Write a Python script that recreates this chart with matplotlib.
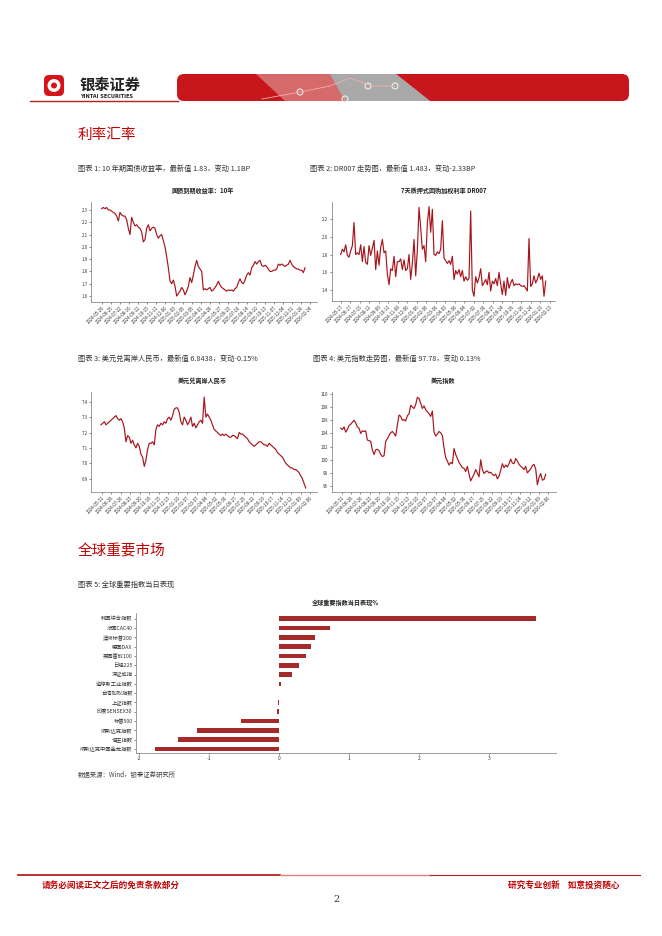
import numpy as np
import matplotlib
matplotlib.use("Agg")
import matplotlib.pyplot as plt
from matplotlib.patches import FancyBboxPatch, Polygon, Circle

plt.rcParams['font.family'] = ['Noto Sans CJK SC', 'DejaVu Sans']
plt.rcParams['axes.unicode_minus'] = False

# ---- data ----
cgb10y = [2.31, 2.32, 2.31, 2.32, 2.30, 2.30, 2.29, 2.28, 2.27, 2.25, 2.21, 2.28, 2.26, 2.25, 2.25,
          2.22, 2.15, 2.10, 2.24, 2.20, 2.17, 2.18, 2.16, 2.15, 2.12, 2.04, 2.06, 2.15, 2.18, 2.13,
          2.15, 2.16, 2.15, 2.10, 2.07, 2.09, 2.10, 2.05, 2.00, 1.92, 1.83, 1.72, 1.70, 1.73, 1.68,
          1.60, 1.62, 1.64, 1.67, 1.65, 1.61, 1.64, 1.68, 1.75, 1.71, 1.77, 1.84, 1.89, 1.84, 1.82,
          1.80, 1.65, 1.66, 1.65, 1.66, 1.67, 1.64, 1.65, 1.67, 1.69, 1.72, 1.69, 1.67, 1.66, 1.65,
          1.64, 1.65, 1.645, 1.65, 1.64, 1.66, 1.67, 1.71, 1.74, 1.71, 1.70, 1.73, 1.77, 1.79, 1.77,
          1.83, 1.85, 1.88, 1.86, 1.88, 1.89, 1.85, 1.84, 1.85, 1.84, 1.82, 1.80, 1.80, 1.81, 1.81,
          1.82, 1.86, 1.85, 1.86, 1.85, 1.84, 1.85, 1.86, 1.89, 1.86, 1.84, 1.83, 1.82, 1.82, 1.81,
          1.81, 1.79, 1.83]

dr007 = [1.80, 1.86, 1.83, 1.91, 1.79, 1.77, 1.84, 1.90, 2.16, 1.80, 1.82, 1.80, 1.91, 1.72, 1.89,
         1.71, 1.69, 1.90, 1.79, 1.87, 1.96, 1.63, 1.84, 1.68, 1.88, 1.97, 1.82, 1.84, 1.58, 1.46,
         1.64, 1.62, 1.78, 1.55, 1.72, 1.72, 1.75, 1.63, 1.74, 1.62, 1.64, 1.80, 1.52, 1.70, 1.97,
         1.56, 1.85, 2.33, 2.10, 1.86, 1.90, 1.72, 2.15, 2.34, 2.05, 2.31, 1.80, 1.79, 1.83, 1.81,
         1.86, 2.18, 1.76, 1.73, 1.70, 1.73, 1.69, 1.78, 1.52, 1.62, 1.58, 1.63, 1.55, 1.62, 1.50,
         1.55, 1.51, 1.53, 2.29, 1.40, 1.33, 1.55, 1.48, 1.54, 1.64, 1.45, 1.48, 1.52, 1.46, 1.60,
         1.39, 1.50, 1.47, 1.53, 1.45, 1.60, 1.47, 1.35, 1.50, 1.34, 1.54, 1.42, 1.48, 1.52, 1.45,
         1.47, 1.46, 1.47, 1.45, 1.44, 1.45, 1.42, 1.39, 1.98, 1.44, 1.47, 1.56, 1.48, 1.52, 1.59,
         1.52, 1.56, 1.33, 1.50]

usdcnh = [7.25, 7.26, 7.27, 7.25, 7.26, 7.27, 7.28, 7.29, 7.30, 7.31, 7.29, 7.28, 7.29, 7.27, 7.23,
          7.14, 7.18, 7.17, 7.13, 7.15, 7.12, 7.10, 7.13, 7.11, 7.06, 7.04, 6.98, 7.02, 7.09, 7.13,
          7.13, 7.14, 7.12, 7.22, 7.25, 7.24, 7.26, 7.25, 7.27, 7.26, 7.29, 7.30, 7.28, 7.31, 7.35,
          7.36, 7.36, 7.33, 7.27, 7.25, 7.30, 7.28, 7.25, 7.27, 7.30, 7.24, 7.26, 7.23, 7.25, 7.27,
          7.28, 7.26, 7.43, 7.30, 7.32, 7.30, 7.28, 7.25, 7.22, 7.21, 7.20, 7.19, 7.18, 7.19, 7.18,
          7.19, 7.18, 7.17, 7.17, 7.18, 7.18, 7.17, 7.16, 7.20, 7.19, 7.19, 7.18, 7.17, 7.16, 7.14,
          7.13, 7.12, 7.11, 7.12, 7.13, 7.14, 7.14, 7.13, 7.12, 7.12, 7.11, 7.13, 7.12, 7.11, 7.10,
          7.09, 7.07, 7.06, 7.05, 7.04, 7.02, 7.00, 6.99, 6.98, 6.97, 6.97, 6.96, 6.96, 6.95, 6.94,
          6.92, 6.90, 6.87, 6.84]

usd_index = [104.8, 104.6, 105.0, 104.2, 104.6, 105.2, 105.4, 105.7, 106.0, 105.6, 105.0, 104.8,
             104.0, 104.4, 104.3, 104.4, 103.0, 102.9, 102.8, 101.5, 100.8, 101.5, 101.6, 101.4,
             100.8, 100.5, 100.6, 102.8, 103.2, 103.7, 104.1, 104.3, 104.0, 103.6, 105.3, 106.8,
             106.6, 106.0, 106.1, 105.9, 106.7, 107.0, 108.3, 108.0, 107.8, 108.4, 109.5, 109.3,
             108.6, 107.8, 108.2, 107.6, 107.3, 107.0, 106.6, 107.4, 104.2, 103.6, 103.9, 104.3,
             104.1, 103.7, 101.8, 100.3, 99.8, 99.2, 99.6, 99.4, 101.7, 100.8, 100.2, 99.6,
             99.2, 98.8, 98.7, 98.2, 99.0, 97.8, 96.8, 97.3, 97.8, 98.5, 98.0, 97.4,
             100.0, 98.5, 97.9, 98.2, 98.3, 98.0, 98.1, 97.8, 97.6, 97.8, 97.1, 97.5,
             98.4, 99.4, 98.8, 99.2, 98.9, 99.4, 100.1, 99.5, 99.4, 100.2, 99.8, 99.3,
             99.0, 98.8, 98.5, 99.0, 98.0, 98.3, 98.6, 99.1, 99.3, 98.6, 96.2, 97.3,
             97.9, 96.9, 97.0, 97.78]

dates_cgb = ['2024-05-29', '2024-06-25', '2024-07-22', '2024-08-16', '2024-09-12', '2024-10-15',
             '2024-11-11', '2024-12-06', '2025-01-03', '2025-02-05', '2025-03-05', '2025-04-01',
             '2025-04-28', '2025-05-27', '2025-06-23', '2025-07-18', '2025-08-14', '2025-09-10',
             '2025-10-13', '2025-11-07', '2025-12-04', '2025-12-31', '2026-01-28', '2026-02-24']
dates_dr = ['2024-05-17', '2024-06-17', '2024-07-15', '2024-08-12', '2024-09-09', '2024-10-11',
            '2024-11-08', '2024-12-06', '2025-01-06', '2025-02-06', '2025-03-06', '2025-04-03',
            '2025-05-06', '2025-06-04', '2025-07-02', '2025-07-30', '2025-08-27', '2025-09-24',
            '2025-10-29', '2025-11-26', '2025-12-24', '2026-01-23', '2026-02-13']
dates_fx = ['2024-05-31', '2024-06-28', '2024-07-26', '2024-08-23', '2024-09-20', '2024-10-18',
            '2024-11-15', '2024-12-13', '2025-01-10', '2025-02-07', '2025-03-07', '2025-04-04',
            '2025-05-02', '2025-05-30', '2025-06-27', '2025-07-25', '2025-08-22', '2025-09-19',
            '2025-10-17', '2025-11-14', '2025-12-12', '2026-01-09', '2026-02-06']

markets = ['韩国综合指数', '法国CAC40', '澳洲标普200', '德国DAX', '英国富时100', '日经225',
           '深证成指', '道琼斯工业指数', '台湾加权指数', '上证指数', '印度SENSEX30', '标普500',
           '纳斯达克指数', '恒生指数', '纳斯达克中国金龙指数']
market_chg = [3.68, 0.73, 0.52, 0.45, 0.38, 0.29, 0.19, 0.03, 0.003, -0.01, -0.03, -0.54,
              -1.18, -1.44, -1.78]

W, H = 662, 936
RED = '#C00000'
LINE = '#A8141C'
BAR = '#A52A2A'
SPINE = '#8C8C8C'

fig = plt.figure(figsize=(W / 100, H / 100), dpi=100, facecolor='white')

# page overlay in pixel coords
page = fig.add_axes([0, 0, 1, 1])
page.set_xlim(0, W)
page.set_ylim(H, 0)
page.axis('off')
page.patch.set_visible(False)

# header logo
page.add_patch(FancyBboxPatch((44, 75), 20, 21, boxstyle='round,pad=0,rounding_size=5',
                              fc='#D7121B', ec='none'))
page.add_patch(Circle((54, 85.5), 6.5, fc='white', ec='none'))
page.add_patch(Circle((54, 85.5), 3, fc='#D7121B', ec='none'))
page.text(80, 85, '银泰证券', fontsize=11, fontweight='bold', color='#222222', va='center')
page.text(80, 96.5, 'YINTAI SECURITIES', fontsize=3.6, fontweight='bold', color='#222222',
          va='center', family='DejaVu Sans')
page.plot([30, 178], [101, 101], color='#B22222', lw=1)
page.add_patch(FancyBboxPatch((177, 74), 452, 27, boxstyle='round,pad=0,rounding_size=7',
                              fc='#C8161D', ec='none'))
page.add_patch(Polygon([(256, 74), (396, 74), (430, 101), (285, 101)], fc='#D66A6A', ec='none'))
page.add_patch(Polygon([(330, 74), (396, 74), (430, 101), (345, 101)], fc='#A9A9A9', ec='none'))
page.plot([262, 300, 330, 350, 372, 395], [99, 92, 86, 78, 86, 86], color='#F0B0B0', lw=0.6)
for cx, cy in [(300, 92), (368, 86), (395, 86), (345, 99)]:
    page.add_patch(Circle((cx, cy), 3, fc='none', ec='#EEEEEE', lw=0.8))

# section titles and captions
page.text(78, 135, '利率汇率', fontsize=10.5, color=RED, va='center')
page.text(78, 169, '图表 1: 10 年期国债收益率，最新值 1.83，变动 1.1BP', fontsize=5.2,
          color='#333333', va='center')
page.text(310, 169, '图表 2: DR007 走势图，最新值 1.483，变动-2.33BP', fontsize=5.2,
          color='#333333', va='center')
page.text(78, 359, '图表 3: 美元兑离岸人民币，最新值 6.8438，变动-0.15%', fontsize=5.2,
          color='#333333', va='center')
page.text(313, 359, '图表 4: 美元指数走势图，最新值 97.78，变动 0.13%', fontsize=5.2,
          color='#333333', va='center')
page.text(78, 551, '全球重要市场', fontsize=10.5, color=RED, va='center')
page.text(78, 585, '图表 5: 全球重要指数当日表现', fontsize=5.2, color='#333333', va='center')
page.text(78, 775, '数据来源：Wind，银泰证券研究所', fontsize=4.6, color='#444444', va='center')

# chart titles
tkw = dict(fontsize=4.4, ha='center', va='center', fontweight='bold', color='#222222')
page.text(203, 190, '国债到期收益率：10年', **tkw)
page.text(444, 191, '7天质押式回购加权利率 DR007', **tkw)
page.text(202, 381, '美元兑离岸人民币', **tkw)
page.text(443, 381, '美元指数', **tkw)
page.text(345, 602, '全球重要指数当日表现%', **tkw)

# footer
page.plot([18, 280], [875, 875], color='#B22222', lw=1.3)
page.plot([280, 430], [875, 875], color='#D98080', lw=1.0)
page.plot([430, 640], [875, 875], color='#B22222', lw=0.8)
page.text(42, 885, '请务必阅读正文之后的免责条款部分', fontsize=6.2, fontweight='bold',
          color=RED, va='center')
page.text(620, 885, '研究专业创新    如意投资随心', fontsize=6.2, fontweight='bold',
          color=RED, va='center', ha='right')
page.text(336, 900, '2', fontsize=7, color='#333333', va='center', ha='center',
          family='DejaVu Serif')


def px_axes(left, top, right, bottom):
    return fig.add_axes([left / W, 1 - bottom / H, (right - left) / W, (bottom - top) / H])


def style(ax):
    for s in ['top', 'right']:
        ax.spines[s].set_visible(False)
    for s in ['left', 'bottom']:
        ax.spines[s].set_color(SPINE)
        ax.spines[s].set_linewidth(0.6)
    ax.tick_params(axis='both', labelsize=3.2, colors='#333333', length=1.5, width=0.4,
                   pad=1)
    ax.patch.set_visible(False)


def line_chart(box, values, dates, xlim, tick_span, ylim, yticks, yfmt):
    ax = px_axes(*box)
    ax.plot(np.arange(len(values)), values, color=LINE, lw=0.85)
    ax.set_xlim(*xlim)
    ax.set_ylim(*ylim)
    ax.set_xticks(np.linspace(tick_span[0], tick_span[1], len(dates)))
    ax.set_xticklabels(dates, rotation=45, ha='right', rotation_mode='anchor')
    ax.set_yticks(yticks)
    ax.set_yticklabels([yfmt.format(v) for v in yticks])
    style(ax)
    return ax


line_chart((91, 201.7, 316.7, 301.7), cgb10y, dates_cgb, (-6.4, 129), (0, 125),
           (1.554, 2.367), [1.6, 1.7, 1.8, 1.9, 2.0, 2.1, 2.2, 2.3], '{:.1f}')
line_chart((331.7, 201.7, 555, 300.7), dr007, dates_dr, (-5.4, 128.6), (0, 125.6),
           (1.28, 2.395), [1.4, 1.6, 1.8, 2.0, 2.2], '{:.1f}')
line_chart((91, 391.7, 316.7, 491.7), usdcnh, dates_fx, (-6, 129.6), (0.6, 125.6),
           (6.816, 7.465), [6.9, 7.0, 7.1, 7.2, 7.3, 7.4], '{:.1f}')
line_chart((331.7, 391.7, 555.7, 491.7), usd_index, dates_fx, (-5.4, 129), (0.6, 124.6),
           (95.14, 110.35), [96, 98, 100, 102, 104, 106, 108, 110], '{:d}')

# bar chart
axb = px_axes(135.7, 613, 556, 753)
ypos = np.arange(len(markets))
axb.barh(ypos, market_chg, height=0.5, color=BAR)
axb.set_yticks(ypos)
axb.set_yticklabels(markets)
axb.set_ylim(len(markets) - 1 + 0.43, -0.61)
axb.set_xlim(-2.05, 3.96)
axb.set_xticks([-2, -1, 0, 1, 2, 3])
axb.set_xticklabels(['-2', '-1', '0', '1', '2', '3'])
style(axb)
axb.tick_params(axis='y', labelsize=3.8, length=1.2)
axb.tick_params(axis='x', labelsize=3.6)

fig.savefig('out.png', dpi=100, facecolor='white')
